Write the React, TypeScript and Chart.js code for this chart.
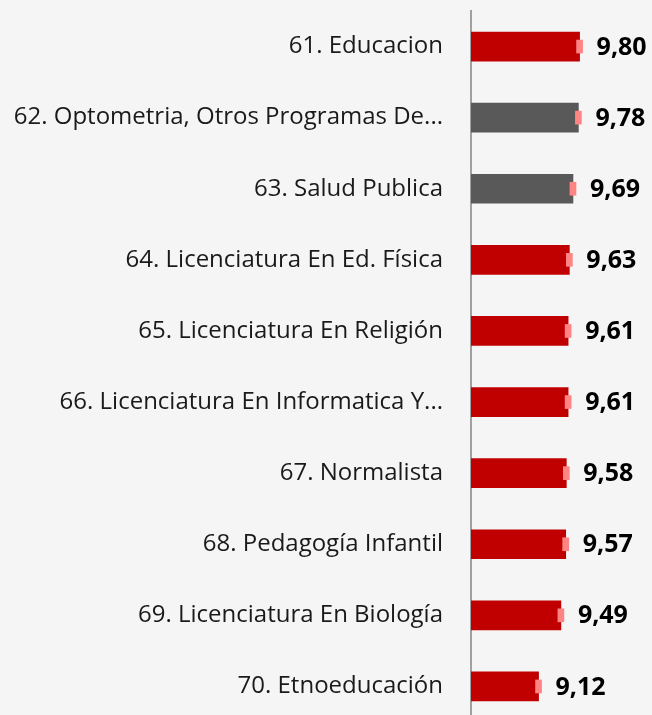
import React, { useEffect, useRef } from "react";
import { Chart, registerables } from "chart.js";

Chart.register(...registerables);

const categories = [
  "61. Educacion",
  "62. Optometria, Otros Programas De...",
  "63. Salud Publica",
  "64. Licenciatura En Ed. Física",
  "65. Licenciatura En Religión",
  "66. Licenciatura En Informatica Y...",
  "67. Normalista",
  "68. Pedagogía Infantil",
  "69. Licenciatura En Biología",
  "70. Etnoeducación",
];
const values = [9.8, 9.78, 9.69, 9.63, 9.61, 9.61, 9.58, 9.57, 9.49, 9.12];
const barColors = [
  "#c00000",
  "#595959",
  "#595959",
  "#c00000",
  "#c00000",
  "#c00000",
  "#c00000",
  "#c00000",
  "#c00000",
  "#c00000",
];
const axisMin = 8;
const axisMax = 11;
const markerHalfWidth = 0.05;

const FONT = "'Open Sans', 'Noto Sans', sans-serif";

export default function App() {
  const ref = useRef<HTMLCanvasElement | null>(null);

  useEffect(() => {
    document.body.style.margin = "0";
    document.body.style.background = "#f5f5f5";
    const canvas = ref.current;
    if (!canvas) return;

    const valueLabels = {
      id: "valueLabels",
      afterDatasetsDraw(chart: any) {
        const ctx = chart.ctx;
        const meta = chart.getDatasetMeta(0);
        ctx.save();
        ctx.font = `bold 25px ${FONT}`;
        ctx.fillStyle = "#000";
        ctx.textAlign = "left";
        ctx.textBaseline = "middle";
        meta.data.forEach((bar: any, i: number) => {
          const txt = values[i].toFixed(2).replace(".", ",");
          ctx.fillText(txt, bar.x + 17, bar.y + 1);
        });
        ctx.restore();
      },
    };

    const chart = new Chart(canvas, {
      type: "bar",
      data: {
        labels: categories,
        datasets: [
          {
            data: values,
            backgroundColor: barColors,
            barThickness: 29,
            order: 2,
          } as any,
          {
            data: values.map((v) => [v - markerHalfWidth, v + markerHalfWidth]),
            backgroundColor: "#ff8585",
            barThickness: 13,
            grouped: false,
            order: 1,
          } as any,
        ],
      },
      options: {
        indexAxis: "y",
        animation: false,
        responsive: false,
        maintainAspectRatio: false,
        layout: { padding: { top: 11, bottom: 0, left: 0, right: 0 } },
        plugins: {
          legend: { display: false },
          tooltip: { enabled: false },
        },
        scales: {
          x: {
            display: false,
            min: axisMin,
            max: axisMax,
          },
          y: {
            grid: { display: false, drawTicks: false },
            border: { display: true, color: "#a0a0a0", width: 2 },
            ticks: {
              padding: 28,
              color: "#1a1a1a",
              font: { family: FONT, size: 24 },
            },
            afterFit(scale: any) {
              scale.width = 471;
              scale.paddingTop = 0;
              scale.paddingBottom = 0;
            },
          },
        },
      },
      plugins: [valueLabels],
    });

    return () => chart.destroy();
  }, []);

  return (
    <div style={{ width: 652, height: 715, overflow: "hidden", background: "#f5f5f5" }}>
      <canvas ref={ref} width={652} height={722} style={{ display: "block" }} />
    </div>
  );
}
